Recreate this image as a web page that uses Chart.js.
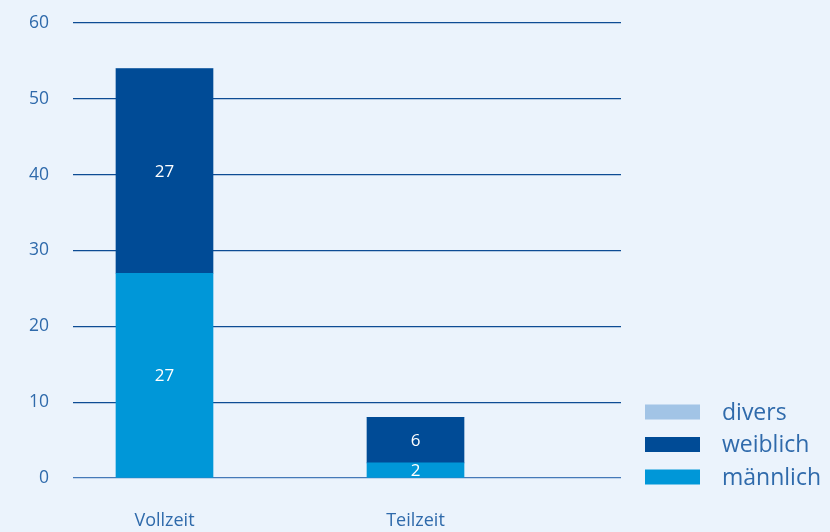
<!DOCTYPE html>
<html lang="de">
<head>
  <meta charset="UTF-8">
  <title>Beschäftigte nach Arbeitszeit</title>
  <style>
    * { margin: 0; padding: 0; box-sizing: border-box; }
    html, body { width: 830px; height: 532px; background: #ebf3fc; overflow: hidden; }
    .chart-container { position: relative; width: 830px; height: 532px; }
  </style>
</head>
<body>
  <div class="chart-container"><canvas id="chart"></canvas></div>

  <script src="https://cdn.jsdelivr.net/npm/chart.js@4.4.1/dist/chart.umd.min.js"></script>
  <script>
    // categories and stacked series
    const categories = ['Vollzeit', 'Teilzeit'];
    const maennlich = [27, 2];
    const weiblich = [27, 6];
    const divers = [0, 0];
    const yTicks = [0, 10, 20, 30, 40, 50, 60];

    const textBlue = '#2f6aab';
    const font = "'Open Sans', 'Noto Sans', sans-serif";

    const toPoints = arr => arr.map((v, i) => ({ x: i, y: v }));

    // white value labels centred inside each segment
    const segmentLabels = {
      id: 'segmentLabels',
      afterDatasetsDraw(chart) {
        const ctx = chart.ctx;
        ctx.save();
        ctx.fillStyle = '#ffffff';
        ctx.font = '17px ' + font;
        ctx.textAlign = 'center';
        ctx.textBaseline = 'middle';
        chart.data.datasets.forEach((ds, di) => {
          const meta = chart.getDatasetMeta(di);
          meta.data.forEach((bar, i) => {
            const v = ds.data[i].y;
            if (!v) return;
            ctx.fillText(String(v), bar.x, (bar.y + bar.base) / 2 + 1);
          });
        });
        ctx.restore();
      }
    };

    // legend stacked at the lower right, top entry = top of stack
    const sideLegend = {
      id: 'sideLegend',
      afterDraw(chart) {
        const ctx = chart.ctx;
        const items = chart.data.datasets.slice().reverse();
        ctx.save();
        ctx.font = '23px ' + font;
        ctx.textBaseline = 'middle';
        ctx.textAlign = 'left';
        items.forEach((ds, k) => {
          const cy = 412 + k * 32.5;
          ctx.fillStyle = ds.backgroundColor;
          ctx.fillRect(645, cy - 7.5, 55, 15);
          ctx.fillStyle = textBlue;
          ctx.fillText(ds.label, 722, cy + 1);
        });
        ctx.restore();
      }
    };

    new Chart(document.getElementById('chart'), {
      type: 'bar',
      data: {
        datasets: [
          { label: 'männlich', data: toPoints(maennlich), backgroundColor: '#0097d8' },
          { label: 'weiblich', data: toPoints(weiblich), backgroundColor: '#004b96' },
          { label: 'divers', data: toPoints(divers), backgroundColor: '#a2c4e6' }
        ]
      },
      options: {
        responsive: true,
        maintainAspectRatio: false,
        animation: false,
        barThickness: 97,
        layout: { padding: { top: 23, right: 209, bottom: 0, left: 0 } },
        plugins: {
          legend: { display: false },
          tooltip: { enabled: false }
        },
        scales: {
          x: {
            type: 'linear',
            stacked: true,
            offset: false,
            min: -0.3645,
            max: 1.8187,
            grid: { display: false },
            border: { display: false },
            afterBuildTicks: scale => { scale.ticks = categories.map((_, i) => ({ value: i })); },
            afterFit: scale => { scale.height = 54; },
            ticks: {
              padding: 24,
              color: textBlue,
              font: { family: font, size: 18 },
              maxRotation: 0,
              callback: v => categories[v]
            }
          },
          y: {
            stacked: true,
            min: 0,
            max: 60,
            afterBuildTicks: scale => { scale.ticks = yTicks.map(v => ({ value: v })); },
            afterFit: scale => { scale.width = 73; },
            grid: {
              drawTicks: true,
              tickLength: 21,
              tickColor: 'transparent',
              lineWidth: 1.3,
              color: ctx => ctx.tick && ctx.tick.value === 0 ? '#4579b8' : '#0d4c94'
            },
            border: { display: false },
            ticks: {
              padding: 3,
              color: textBlue,
              font: { family: font, size: 17.5 }
            }
          }
        }
      },
      plugins: [segmentLabels, sideLegend]
    });
  </script>
</body>
</html>
